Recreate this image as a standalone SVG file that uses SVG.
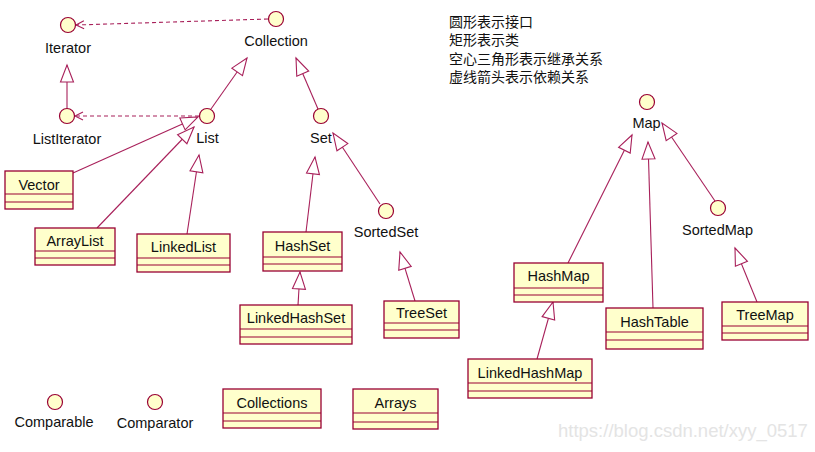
<svg xmlns="http://www.w3.org/2000/svg" width="815" height="452" viewBox="0 0 815 452">
<style>
  .box{fill:#FFFFCC;stroke:#990033;stroke-width:1.3}
  .div{stroke:#990033;stroke-width:1.2}
  .ifc{fill:#FFFFCC;stroke:#990033;stroke-width:1.2}
  .t{font-family:"Liberation Sans",Arial,sans-serif;font-size:14.5px;fill:#111;text-anchor:middle}
  .cn{font-family:"Noto Sans CJK SC","Noto Sans",sans-serif;font-size:14px;fill:#111}
  .inh{stroke:#A8205A;stroke-width:1.1;fill:none;marker-end:url(#tri)}
  .dep{stroke:#A8205A;stroke-width:1.1;fill:none;stroke-dasharray:4 3;marker-end:url(#open)}
  .wm{font-family:"Liberation Sans",Arial,sans-serif;font-size:18.5px;fill:#e4e4e4}
</style>
<defs>
  <marker id="tri" markerUnits="userSpaceOnUse" markerWidth="20" markerHeight="15" refX="17" refY="6.5" orient="auto" overflow="visible">
    <path d="M0,0 L17,6.5 L0,13 Z" fill="#fff" stroke="#A8205A" stroke-width="1.1"/>
  </marker>
  <marker id="open" markerUnits="userSpaceOnUse" markerWidth="10" markerHeight="10" refX="8" refY="4" orient="auto" overflow="visible">
    <path d="M0,0 L8,4 L0,8" fill="none" stroke="#A8205A" stroke-width="1.1"/>
  </marker>
</defs>
<rect width="815" height="452" fill="#fff"/>

<g id="connectors">
  <line class="dep" x1="268" y1="19" x2="76" y2="25"/>
  <line class="dep" x1="199" y1="116" x2="75" y2="116"/>
  <line class="inh" x1="67" y1="108.5" x2="67" y2="65"/>
  <line class="inh" x1="211" y1="109" x2="247" y2="58"/>
  <line class="inh" x1="318" y1="109" x2="296" y2="58"/>
  <line class="inh" x1="73" y1="173" x2="198" y2="117"/>
  <line class="inh" x1="97" y1="228" x2="194" y2="127"/>
  <line class="inh" x1="187" y1="234" x2="199" y2="155"/>
  <line class="inh" x1="306" y1="232" x2="315" y2="157"/>
  <line class="inh" x1="380" y1="204" x2="333" y2="133"/>
  <line class="inh" x1="415" y1="301" x2="400" y2="252"/>
  <line class="inh" x1="298" y1="305" x2="300" y2="272"/>
  <line class="inh" x1="568" y1="263" x2="632" y2="135"/>
  <line class="inh" x1="653" y1="308" x2="648" y2="142"/>
  <line class="inh" x1="715" y1="201" x2="662" y2="123"/>
  <line class="inh" x1="757" y1="302" x2="735" y2="248"/>
  <line class="inh" x1="537" y1="359" x2="553" y2="302"/>
</g>

<g id="Iterator"><circle class="ifc" cx="68" cy="25" r="7.5"/><text class="t" x="68" y="53">Iterator</text></g>
<g id="Collection"><circle class="ifc" cx="276" cy="19" r="7.5"/><text class="t" x="276" y="46">Collection</text></g>
<g id="ListIterator"><circle class="ifc" cx="67" cy="116" r="7.5"/><text class="t" x="67" y="144">ListIterator</text></g>
<g id="List"><circle class="ifc" cx="207" cy="116" r="7.5"/><text class="t" x="207.5" y="143">List</text></g>
<g id="Set"><circle class="ifc" cx="321" cy="116" r="7.5"/><text class="t" x="321" y="143">Set</text></g>
<g id="SortedSet"><circle class="ifc" cx="386" cy="211" r="7.5"/><text class="t" x="386" y="237">SortedSet</text></g>
<g id="Map"><circle class="ifc" cx="647" cy="102" r="7.5"/><text class="t" x="646.5" y="128">Map</text></g>
<g id="SortedMap"><circle class="ifc" cx="718" cy="208" r="7.5"/><text class="t" x="717.5" y="235">SortedMap</text></g>
<g id="Comparable"><circle class="ifc" cx="55" cy="402" r="7.5"/><text class="t" x="54" y="427">Comparable</text></g>
<g id="Comparator"><circle class="ifc" cx="155" cy="402" r="7.5"/><text class="t" x="155" y="428">Comparator</text></g>

<g id="Vector"><rect class="box" x="5" y="171" width="68" height="38"/><line class="div" x1="5" y1="194" x2="73" y2="194"/><line class="div" x1="5" y1="202" x2="73" y2="202"/><text class="t" x="39" y="189.5">Vector</text></g>
<g id="ArrayList"><rect class="box" x="35" y="228" width="80" height="37"/><line class="div" x1="35" y1="251" x2="115" y2="251"/><line class="div" x1="35" y1="258" x2="115" y2="258"/><text class="t" x="75" y="245.5">ArrayList</text></g>
<g id="LinkedList"><rect class="box" x="137" y="234" width="93" height="38"/><line class="div" x1="137" y1="258" x2="230" y2="258"/><line class="div" x1="137" y1="265" x2="230" y2="265"/><text class="t" x="183.5" y="252">LinkedList</text></g>
<g id="HashSet"><rect class="box" x="263" y="232" width="79" height="39"/><line class="div" x1="263" y1="257" x2="342" y2="257"/><line class="div" x1="263" y1="264" x2="342" y2="264"/><text class="t" x="302.5" y="250.5">HashSet</text></g>
<g id="LinkedHashSet"><rect class="box" x="240" y="305" width="112" height="39"/><line class="div" x1="240" y1="329" x2="352" y2="329"/><line class="div" x1="240" y1="337" x2="352" y2="337"/><text class="t" x="296" y="323">LinkedHashSet</text></g>
<g id="TreeSet"><rect class="box" x="384" y="301" width="75" height="37"/><line class="div" x1="384" y1="323" x2="459" y2="323"/><line class="div" x1="384" y1="330" x2="459" y2="330"/><text class="t" x="421.5" y="318">TreeSet</text></g>
<g id="HashMap"><rect class="box" x="514" y="263" width="89" height="39"/><line class="div" x1="514" y1="288" x2="603" y2="288"/><line class="div" x1="514" y1="295" x2="603" y2="295"/><text class="t" x="558.5" y="281">HashMap</text></g>
<g id="HashTable"><rect class="box" x="606" y="308" width="97" height="41"/><line class="div" x1="606" y1="332" x2="703" y2="332"/><line class="div" x1="606" y1="340" x2="703" y2="340"/><text class="t" x="654.5" y="327">HashTable</text></g>
<g id="TreeMap"><rect class="box" x="722" y="302" width="86" height="38"/><line class="div" x1="722" y1="326" x2="808" y2="326"/><line class="div" x1="722" y1="333" x2="808" y2="333"/><text class="t" x="765" y="320">TreeMap</text></g>
<g id="LinkedHashMap"><rect class="box" x="468" y="359" width="124" height="39"/><line class="div" x1="468" y1="383" x2="592" y2="383"/><line class="div" x1="468" y1="391" x2="592" y2="391"/><text class="t" x="530" y="378">LinkedHashMap</text></g>
<g id="Collections"><rect class="box" x="223" y="389" width="98" height="39"/><line class="div" x1="223" y1="413" x2="321" y2="413"/><line class="div" x1="223" y1="421" x2="321" y2="421"/><text class="t" x="272" y="408">Collections</text></g>
<g id="Arrays"><rect class="box" x="353" y="389" width="85" height="40"/><line class="div" x1="353" y1="413" x2="438" y2="413"/><line class="div" x1="353" y1="422" x2="438" y2="422"/><text class="t" x="395.5" y="408">Arrays</text></g>

<g id="legend">
  <text class="cn" x="449" y="26.5">圆形表示接口</text>
  <text class="cn" x="449" y="45">矩形表示类</text>
  <text class="cn" x="449" y="63.5">空心三角形表示继承关系</text>
  <text class="cn" x="449" y="82">虚线箭头表示依赖关系</text>
</g>
<text class="wm" x="558" y="437">https://blog.csdn.net/xyy_0517</text>
</svg>
